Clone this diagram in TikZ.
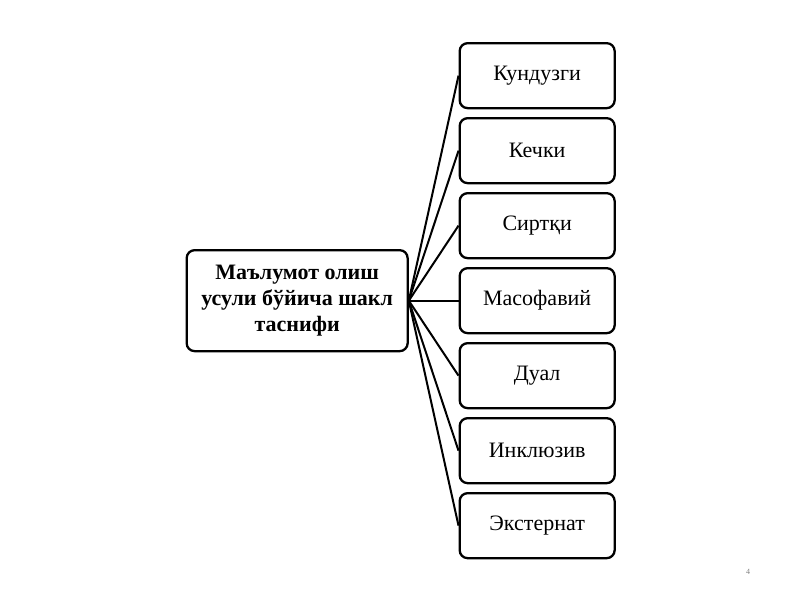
\documentclass[tikz,border=0pt]{standalone}
\usepackage{fontspec}
\setmainfont{Liberation Serif}
\begin{document}
\begin{tikzpicture}[x=1pt,y=-1pt,
  box/.style={draw=black,line width=2.3pt,rounded corners=8pt,fill=white,inner sep=0pt,anchor=north west},
  item/.style={box,minimum width=155pt,minimum height=65pt,font=\fontsize{22}{26}\selectfont},
  link/.style={draw=black,line width=2pt}]
\useasboundingbox (0,0) rectangle (800,600);
\node[box,minimum width=221pt,minimum height=101pt,align=center,font=\bfseries\fontsize{22}{26}\selectfont] (c) at (185.5,249) {Маълумот олиш\\усули бўйича шакл\\таснифи};
\node[item] (a1) at (458.5,42) {Кундузги};
\node[item] (a2) at (458.5,117) {Кечки};
\node[item] (a3) at (458.5,192) {Сиртқи};
\node[item] (a4) at (458.5,267) {Масофавий};
\node[item] (a5) at (458.5,342) {Дуал};
\node[item] (a6) at (458.5,417) {Инклюзив};
\node[item] (a7) at (458.5,492) {Экстернат};
\foreach \i in {1,...,7} {\draw[link] (c.east) -- (a\i.west);}
\node[text=gray,font=\fontsize{8}{9}\selectfont] (pn) at (748,572) {4};
\end{tikzpicture}
\end{document}
